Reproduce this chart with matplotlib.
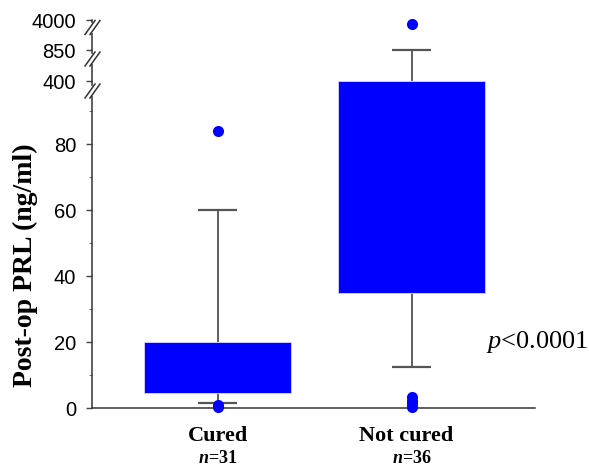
import matplotlib
matplotlib.use('Agg')
import matplotlib.pyplot as plt
from matplotlib.lines import Line2D
import numpy as np

# --- Data ---
groups    = ['Cured', 'Not cured']
n_labels  = ['31', '36']
q1        = [4.5, 35]
q3        = [20, 400]
whis_lo   = [1.5, 12.5]
whis_hi   = [60, 850]
fliers    = [[84, 0.4, 1.0], [3600, 0.4, 1.2, 2.2, 3.2]]
p_text    = '$p$<0.0001'

major_ticks = [0, 20, 40, 60, 80, 400, 850, 4000]
minor_ticks = [10, 30, 50, 70, 90]

# broken axis: piecewise-linear mapping value -> pixel height
brk_vals = [0, 95, 400, 850, 4000]
brk_pix  = [0, 313.5, 327, 358, 388]

def fwd(v):
    return np.interp(v, brk_vals, brk_pix)

def inv(p):
    return np.interp(p, brk_pix, brk_vals)

plt.rcParams['mathtext.fontset'] = 'custom'
plt.rcParams['mathtext.it'] = 'Liberation Serif:italic'
plt.rcParams['mathtext.rm'] = 'Liberation Serif'
plt.rcParams['mathtext.bfit'] = 'Liberation Serif:italic:bold'

W, H = 589, 466
fig = plt.figure(figsize=(W / 100, H / 100), dpi=100)
fig.patch.set_facecolor('white')
ax = fig.add_axes([92 / W, 58 / H, 443 / W, 388 / H])

BLUE = '#0000FF'
GREY = '#555555'

x = np.array([1, 2])
box_w = 0.758
cap_w = 0.206

ax.set_yscale('function', functions=(fwd, inv))
ax.set_ylim(0, 4000)
ax.set_xlim(1 - 125.5 / 194, 2 + 123.5 / 194)

for xi, lo, hi, b, t, fl in zip(x, whis_lo, whis_hi, q1, q3, fliers):
    ax.bar(xi, t - b, bottom=b, width=box_w, color=BLUE,
           edgecolor='#d8d8ff', linewidth=0.6, zorder=3)
    ax.vlines(xi, t, hi, color='#444444', linewidth=1.2, zorder=2)
    ax.vlines(xi, lo, b, color='#444444', linewidth=1.2, zorder=2)
    ax.hlines([lo, hi], xi - cap_w / 2, xi + cap_w / 2,
              color=GREY, linewidth=1.6, zorder=2)
    ax.plot([xi] * len(fl), fl, 'o', color=BLUE, markersize=8,
            markeredgewidth=0, clip_on=False, zorder=4)

# --- Axes ---
ax.set_yticks(major_ticks)
ax.set_yticklabels([str(t) for t in major_ticks],
                   fontfamily='Liberation Sans', fontsize=14.5)
ax.set_yticks(minor_ticks, minor=True)
ax.tick_params(axis='y', which='major', direction='out', length=4.5,
               width=1, color='#444444', pad=7)
ax.tick_params(axis='y', which='minor', direction='out', length=2.5,
               width=0.8, color='#777777')
ax.set_xticks([])

for s in ['top', 'right']:
    ax.spines[s].set_visible(False)
for s in ['left', 'bottom']:
    ax.spines[s].set_color('#333333')
    ax.spines[s].set_linewidth(1.1)

ax.set_ylabel('Post-op PRL (ng/ml)', fontfamily='Liberation Serif',
              fontweight='bold', fontsize=20)
ax.yaxis.set_label_coords(-0.122, 0.369)

# --- Group labels ---
xt = ax.get_xaxis_transform()
label_x = [1.0, 1.97]
for lx, xi, g, n in zip(label_x, x, groups, n_labels):
    ax.text(lx, -0.072, g, transform=xt, ha='center', va='center',
            fontfamily='Liberation Serif', fontweight='bold', fontsize=16)
    ax.text(xi, -0.131, r'$\mathbfit{n}$=' + n, transform=xt,
            ha='center', va='center', fontfamily='Liberation Serif',
            fontweight='bold', fontsize=13)

ax.text(2.647, 20, p_text, ha='center', va='center',
        fontfamily='Liberation Serif', fontsize=19)

# --- Break marks on the y axis (pixel coords from top-left) ---
def px(xp, yp):
    return xp / W, 1 - yp / H

ax_x = 92.5
for yc in [27.5, 59, 91]:
    # gap in spine
    x0, y0 = px(ax_x, yc - 3)
    x1, y1 = px(ax_x, yc + 3)
    fig.add_artist(Line2D([x0, x1], [y0, y1], color='white',
                          linewidth=3, transform=fig.transFigure, zorder=5))
    for dx in (-2.5, 2.5):
        xa, ya = px(ax_x + dx - 5, yc + 7)
        xb, yb = px(ax_x + dx + 5, yc - 7)
        fig.add_artist(Line2D([xa, xb], [ya, yb], color='#333333',
                              linewidth=1.1, transform=fig.transFigure,
                              zorder=6))

fig.savefig('out.png', dpi=100)
